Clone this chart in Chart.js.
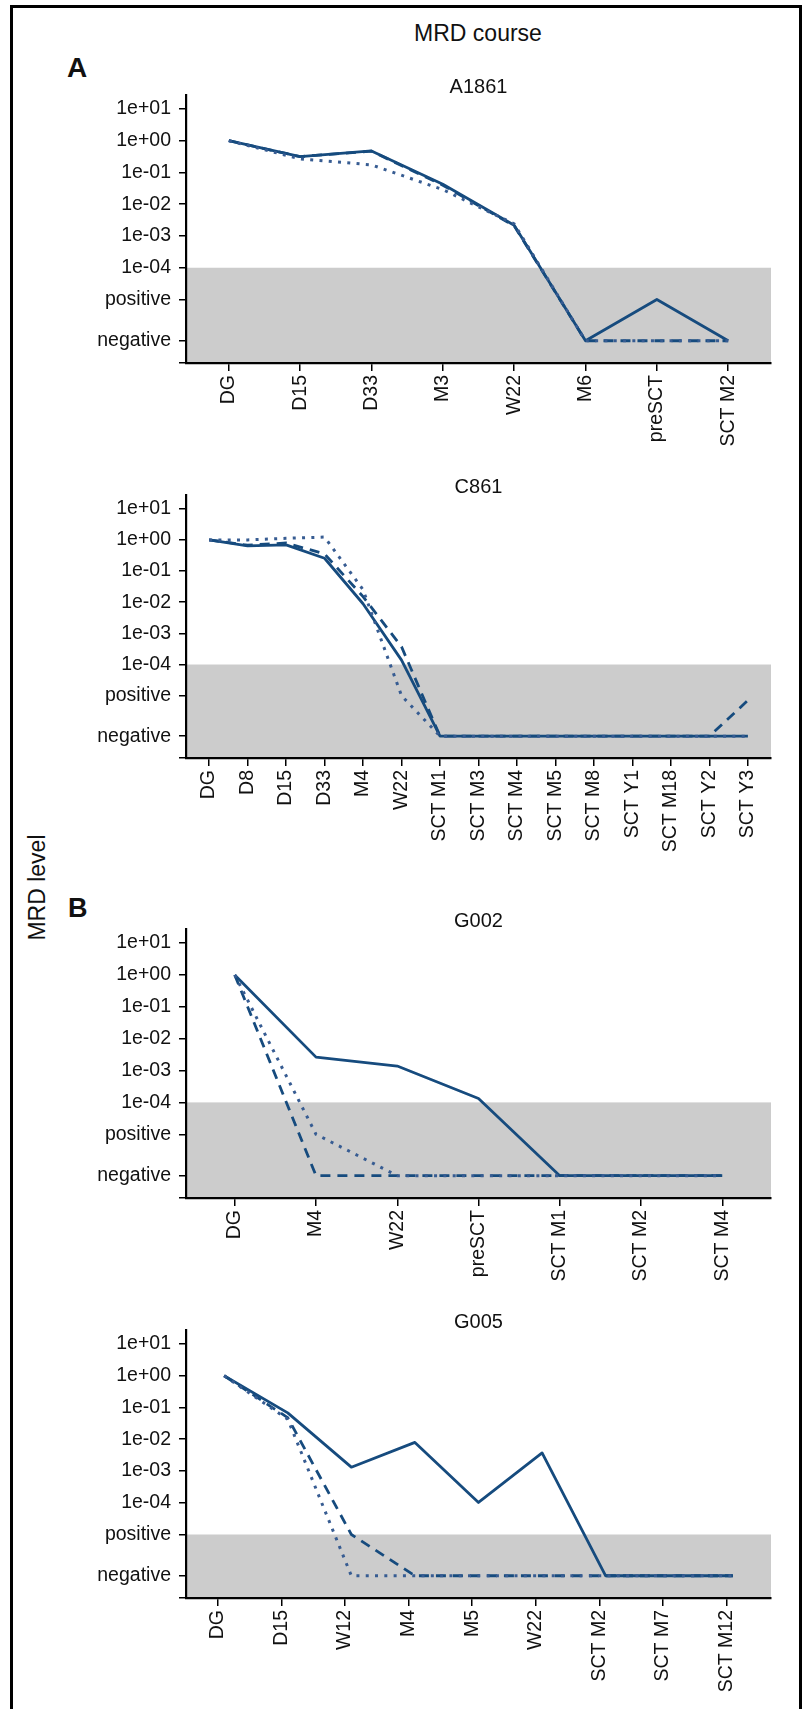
<!DOCTYPE html>
<html lang="en">
<head>
  <meta charset="UTF-8" />
  <title>MRD course</title>
  <script src="https://cdn.jsdelivr.net/npm/chart.js"></script>
  <style>
    body { margin: 0; background: #fff; font-family: "Liberation Sans", Arial, Helvetica, sans-serif; color: #111; }
    #page { position: relative; width: 804px; height: 1709px; overflow: hidden; }
    .frame { position: absolute; left: 10px; top: 5px; width: 792px; height: 1760px; border: 3px solid #000; box-sizing: border-box; pointer-events: none; }
    .txt { position: absolute; white-space: nowrap; }
    canvas { position: absolute; }
  </style>
</head>
<body>
  <div id="page">
    <div class="txt" style="left:378px; top:22px; width:200px; text-align:center; font-size:23px; line-height:23px;">MRD course</div>
    <div class="txt" style="left:67px; top:54px; font-size:28px; line-height:28px; font-weight:bold;">A</div>
    <div class="txt" style="left:68px; top:895px; font-size:27px; line-height:27px; font-weight:bold;">B</div>
    <div class="txt" style="left:-63px; top:876px; width:200px; text-align:center; font-size:23px; line-height:23px; transform:rotate(-90deg);">MRD level</div>
    <div class="frame"></div>
  </div>

  <script>
    // y axis: log10 of MRD, with two extra levels for "positive" and "negative" below 1e-04
    const NEG = -6.3;
    const POS = -5;
    const yTickValues = [1, 0, -1, -2, -3, -4, POS, NEG];
    const yTickLabels = ['1e+01', '1e+00', '1e-01', '1e-02', '1e-03', '1e-04', 'positive', 'negative'];

    // A1861
    const a1861Labels = ['DG', 'D15', 'D33', 'M3', 'W22', 'M6', 'preSCT', 'SCT M2'];
    const a1861Solid  = [0, -0.5, -0.32, -1.37, -2.66, NEG, POS, NEG];
    const a1861Dashed = [0, -0.5, -0.33, -1.4, -2.68, NEG, NEG, NEG];
    const a1861Dotted = [0, -0.57, -0.76, -1.54, -2.62, NEG, NEG, NEG];

    // C861
    const c861Labels = ['DG', 'D8', 'D15', 'D33', 'M4', 'W22', 'SCT M1', 'SCT M3', 'SCT M4', 'SCT M5', 'SCT M8', 'SCT Y1', 'SCT M18', 'SCT Y2', 'SCT Y3'];
    const c861Solid  = [0, -0.19, -0.16, -0.59, -2.05, -3.86, NEG, NEG, NEG, NEG, NEG, NEG, NEG, NEG, NEG];
    const c861Dashed = [0, -0.17, -0.1, -0.45, -1.82, -3.43, NEG, NEG, NEG, NEG, NEG, NEG, NEG, NEG, -5.15];
    const c861Dotted = [0, 0, 0.05, 0.09, -1.6, POS, NEG, NEG, NEG, NEG, NEG, NEG, NEG, NEG, NEG];

    // G002
    const g002Labels = ['DG', 'M4', 'W22', 'preSCT', 'SCT M1', 'SCT M2', 'SCT M4'];
    const g002Solid  = [0, -2.58, -2.86, -3.88, NEG, NEG, NEG];
    const g002Dashed = [0, NEG, NEG, NEG, NEG, NEG, NEG];
    const g002Dotted = [0, POS, NEG, NEG, NEG, NEG, NEG];

    // G005
    const g005Labels = ['DG', 'D15', 'W12', 'M4', 'M5', 'W22', 'SCT M2', 'SCT M7', 'SCT M12'];
    const g005Solid  = [0, -1.17, -2.88, -2.1, -3.99, -2.43, NEG, NEG, NEG];
    const g005Dashed = [0, -1.32, POS, NEG, NEG, NEG, NEG, NEG, NEG];
    const g005Dotted = [0, -1.37, NEG, NEG, NEG, NEG, NEG, NEG, NEG];

    const FONT = '"Liberation Sans", Arial, Helvetica, sans-serif';
    const BLUE = '#164b7e';
    const DOT_BLUE = '#375c92';
    const Y_MIN = -7.0, Y_MAX = 1.45;

    // top / bottom = chart area edges on the page
    const panels = [
      { title: 'A1861', labels: a1861Labels, solid: a1861Solid, dashed: a1861Dashed, dotted: a1861Dotted, band: -4, top: 93, bottom: 363, shift: 0 },
      { title: 'C861',  labels: c861Labels,  solid: c861Solid,  dashed: c861Dashed,  dotted: c861Dotted,  band: -4, top: 493, bottom: 758, shift: 0 },
      { title: 'G002',  labels: g002Labels,  solid: g002Solid,  dashed: g002Dashed,  dotted: g002Dotted,  band: -4, top: 927, bottom: 1198, shift: 0 },
      { title: 'G005',  labels: g005Labels,  solid: g005Solid,  dashed: g005Dashed,  dotted: g005Dotted,  band: POS, top: 1328, bottom: 1598, shift: -0.1 }
    ];

    // grey area for the sub-threshold levels
    const bandPlugin = {
      id: 'negBand',
      beforeDraw(chart, args, opts) {
        const { ctx, chartArea, scales } = chart;
        const top = scales.y.getPixelForValue(opts.from);
        ctx.save();
        ctx.fillStyle = opts.color;
        ctx.fillRect(chartArea.left, top, chartArea.right - chartArea.left, chartArea.bottom - top);
        ctx.restore();
      }
    };

    const pts = arr => arr.map((v, i) => ({ x: i, y: v }));
    const axisGrid = { display: true, drawOnChartArea: false, drawTicks: true, tickLength: 7, color: '#000', lineWidth: 1.5 };
    const axisBorder = { display: true, color: '#000', width: 2.2 };
    const tickFont = { family: FONT, size: 19.5 };

    const page = document.getElementById('page');
    const frame = document.querySelector('.frame');

    panels.forEach(p => {
      const left = 90, width = 712;
      const top = p.top - 18;
      const height = p.bottom + 105 - top;
      const canvas = document.createElement('canvas');
      canvas.width = width;
      canvas.height = height;
      canvas.style.left = left + 'px';
      canvas.style.top = top + 'px';
      page.insertBefore(canvas, frame);

      const n = p.labels.length;
      new Chart(canvas, {
        type: 'line',
        data: {
          datasets: [
            { label: 'dotted', data: pts(p.dotted), borderColor: DOT_BLUE, borderWidth: 3, borderDash: [3, 6.3], borderCapStyle: 'butt', pointRadius: 0, tension: 0 },
            { label: 'solid', data: pts(p.solid), borderColor: BLUE, borderWidth: 2.8, borderJoinStyle: 'round', pointRadius: 0, tension: 0 },
            { label: 'dashed', data: pts(p.dashed), borderColor: BLUE, borderWidth: 2.8, borderDash: [10, 7], pointRadius: 0, tension: 0 }
          ]
        },
        options: {
          responsive: false,
          animation: false,
          events: [],
          layout: { padding: { left: 0, right: 31, top: 0, bottom: 0 } },
          plugins: {
            legend: { display: false },
            tooltip: { enabled: false },
            title: {
              display: true, text: p.title, color: '#111', fullSize: false,
              font: { family: FONT, size: 20, weight: 'normal', lineHeight: 0.7 },
              padding: { top: 4, bottom: 0 }
            },
            negBand: { from: p.band, color: '#cccccc' }
          },
          scales: {
            x: {
              type: 'linear', bounds: 'data', min: -0.6, max: n - 0.4,
              afterBuildTicks: s => { s.ticks = p.labels.map((l, i) => ({ value: i + p.shift })); },
              afterFit: s => { s.height = 105; },
              ticks: { autoSkip: false, minRotation: 90, maxRotation: 90, padding: 4, color: '#111', font: tickFont, callback: (v, i) => p.labels[i] },
              grid: Object.assign({}, axisGrid, { tickLength: 8 }),
              border: axisBorder
            },
            y: {
              type: 'linear', bounds: 'data', min: Y_MIN, max: Y_MAX,
              afterBuildTicks: s => { s.ticks = yTickValues.concat([Y_MIN]).map(v => ({ value: v })); },
              afterFit: s => { s.width = 96; },
              ticks: { autoSkip: false, padding: 8, color: '#111', font: tickFont, callback: (v, i) => yTickLabels[i] || '' },
              grid: axisGrid,
              border: axisBorder
            }
          }
        },
        plugins: [bandPlugin]
      });
    });
  </script>
</body>
</html>
